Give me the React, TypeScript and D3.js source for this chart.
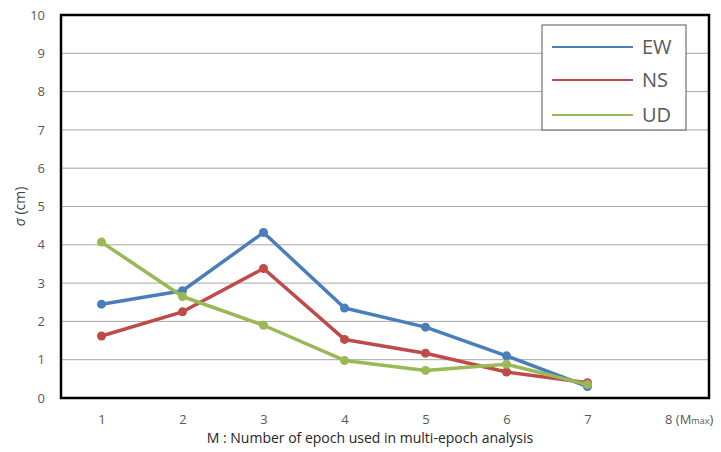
import React, { useRef, useEffect } from 'react';
import * as d3 from 'd3';

const epochs = ['1', '2', '3', '4', '5', '6', '7', '8'];
const ewValues = [2.45, 2.8, 4.32, 2.35, 1.85, 1.1, 0.3];
const nsValues = [1.62, 2.25, 3.38, 1.53, 1.17, 0.68, 0.4];
const udValues = [4.07, 2.65, 1.9, 0.98, 0.72, 0.88, 0.35];
const yTicks = [0, 1, 2, 3, 4, 5, 6, 7, 8, 9, 10];

const series = [
  { name: 'EW', values: ewValues, color: '#4a7ebb' },
  { name: 'NS', values: nsValues, color: '#be4b48' },
  { name: 'UD', values: udValues, color: '#98b954' },
];

const App = () => {
  const svgRef = useRef<SVGSVGElement>(null);

  useEffect(() => {
    const width = 721;
    const height = 452;
    const margin = { top: 15, right: 12, bottom: 54, left: 61 };
    const innerWidth = width - margin.left - margin.right;
    const innerHeight = height - margin.top - margin.bottom;
    const font = '"Open Sans", "DejaVu Sans", sans-serif';

    const svg = d3.select(svgRef.current);
    svg.selectAll('*').remove();

    const xScale = d3.scalePoint().domain(epochs).range([0, innerWidth]).padding(0.5);
    const yScale = d3.scaleLinear().domain([0, 10]).range([innerHeight, 0]);

    const g = svg.append('g').attr('transform', `translate(${margin.left},${margin.top})`);

    // gridlines
    g.append('g')
      .selectAll('line')
      .data(yTicks.slice(1))
      .join('line')
      .attr('x1', 0)
      .attr('x2', innerWidth)
      .attr('y1', d => yScale(d))
      .attr('y2', d => yScale(d))
      .attr('stroke', '#a6a6a6')
      .attr('stroke-width', 1);

    // y axis labels
    const yAxis = g.append('g')
      .call(d3.axisLeft(yScale).tickValues(yTicks).tickSize(0).tickPadding(16));
    yAxis.select('.domain').remove();
    yAxis.selectAll('text')
      .attr('fill', '#595959')
      .style('font-family', font)
      .style('font-size', '13px');

    // x axis labels
    const xAxis = g.append('g')
      .attr('transform', `translate(0,${innerHeight})`)
      .call(d3.axisBottom(xScale).tickSize(0).tickPadding(17));
    xAxis.select('.domain').remove();
    xAxis.selectAll('text')
      .attr('fill', '#595959')
      .style('font-family', font)
      .style('font-size', '13px');

    // last tick "8 (Mmax)"
    const last = xAxis.selectAll<SVGTextElement, string>('text').filter(d => d === '8');
    last.text(null).attr('text-anchor', 'start').attr('x', -4);
    last.append('tspan').text('8 (M');
    last.append('tspan').text('max').style('font-size', '9px');
    last.append('tspan').text(')');

    // lines
    const line = d3.line<number>()
      .x((_, i) => xScale(epochs[i]) as number)
      .y(d => yScale(d));

    series.forEach(s => {
      g.append('path')
        .datum(s.values)
        .attr('fill', 'none')
        .attr('stroke', s.color)
        .attr('stroke-width', 3.5)
        .attr('stroke-linejoin', 'round')
        .attr('d', line);
      g.append('g')
        .selectAll('circle')
        .data(s.values)
        .join('circle')
        .attr('cx', (_, i) => xScale(epochs[i]) as number)
        .attr('cy', d => yScale(d))
        .attr('r', 4.5)
        .attr('fill', s.color);
    });

    // plot border
    g.append('rect')
      .attr('width', innerWidth)
      .attr('height', innerHeight)
      .attr('fill', 'none')
      .attr('stroke', '#000')
      .attr('stroke-width', 2.5);

    // legend
    const legend = g.append('g').attr('transform', `translate(${542 - margin.left},${25 - margin.top})`);
    legend.append('rect')
      .attr('width', 144)
      .attr('height', 105)
      .attr('fill', '#fff')
      .attr('stroke', '#595959')
      .attr('stroke-width', 1);
    const legendY = [22, 55, 90];
    series.forEach((s, i) => {
      legend.append('line')
        .attr('x1', 10)
        .attr('x2', 91)
        .attr('y1', legendY[i])
        .attr('y2', legendY[i])
        .attr('stroke', s.color)
        .attr('stroke-width', 2);
      legend.append('text')
        .attr('x', 100)
        .attr('y', legendY[i])
        .attr('dy', '0.35em')
        .attr('fill', '#595959')
        .style('font-family', font)
        .style('font-size', '20px')
        .text(s.name);
    });

    // axis titles
    svg.append('text')
      .attr('transform', `translate(25,${margin.top + innerHeight / 2}) rotate(-90)`)
      .attr('text-anchor', 'middle')
      .attr('fill', '#404040')
      .style('font-family', font)
      .style('font-size', '14px')
      .call(t => {
        t.append('tspan').text('σ').style('font-style', 'italic');
        t.append('tspan').text(' (cm)');
      });

    svg.append('text')
      .attr('x', 370)
      .attr('y', 443)
      .attr('text-anchor', 'middle')
      .attr('fill', '#262626')
      .style('font-family', font)
      .style('font-size', '14px')
      .text('M : Number of epoch used in multi-epoch analysis');
  }, []);

  return (
    <svg ref={svgRef} width={721} height={452} style={{ position: 'absolute', left: 0, top: 0, background: '#fff' }} />
  );
};

export default App;
